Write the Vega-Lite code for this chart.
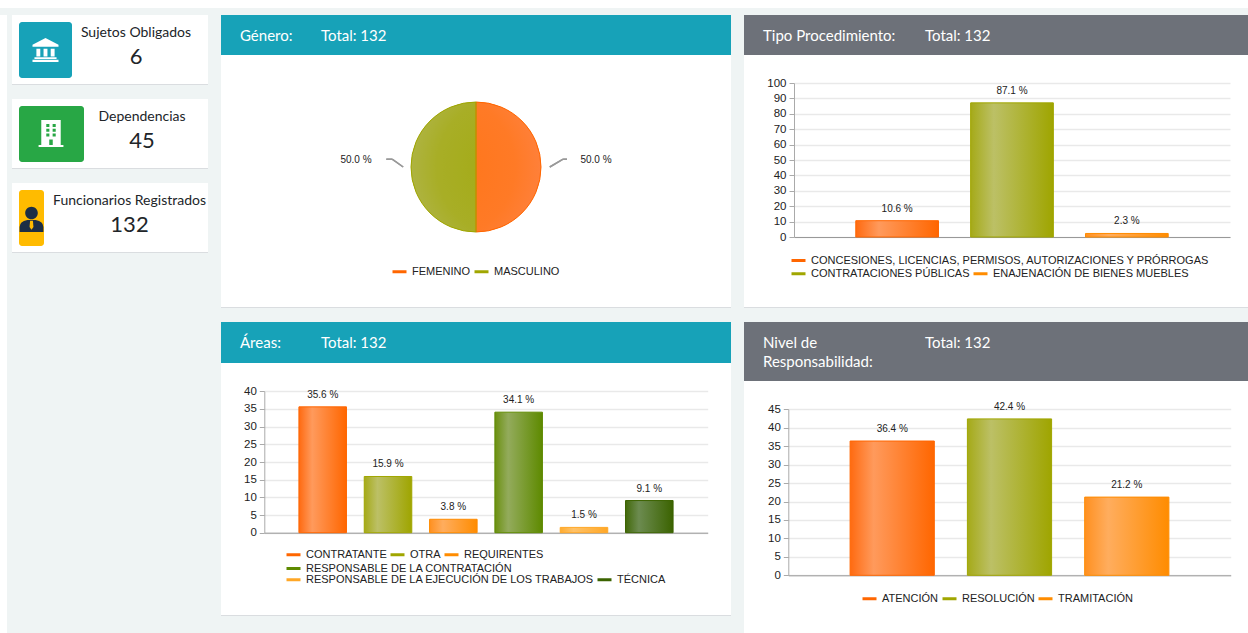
{"$schema":"https://vega.github.io/schema/vega-lite/v6.json","background":"#eff4f4","padding":0,"spacing":7,
"config":{"view":{"stroke":null},"text":{"font":"Liberation Sans"},"axis":{"labelFont":"Liberation Sans"},"legend":{"labelFont":"Liberation Sans"}},
"datasets":{
"vacio":[],
"tipo":[{"nombre":"CONCESIONES, LICENCIAS, PERMISOS, AUTORIZACIONES Y PRÓRROGAS","pct":10.6,"etiqueta":"10.6 %"},{"nombre":"CONTRATACIONES PÚBLICAS","pct":87.1,"etiqueta":"87.1 %"},{"nombre":"ENAJENACIÓN DE BIENES MUEBLES","pct":2.3,"etiqueta":"2.3 %"}],
"areas":[{"nombre":"CONTRATANTE","pct":35.6,"etiqueta":"35.6 %"},{"nombre":"OTRA","pct":15.9,"etiqueta":"15.9 %"},{"nombre":"REQUIRENTES","pct":3.8,"etiqueta":"3.8 %"},{"nombre":"RESPONSABLE DE LA CONTRATACIÓN","pct":34.1,"etiqueta":"34.1 %"},{"nombre":"RESPONSABLE DE LA EJECUCIÓN DE LOS TRABAJOS","pct":1.5,"etiqueta":"1.5 %"},{"nombre":"TÉCNICA","pct":9.1,"etiqueta":"9.1 %"}],
"nivel":[{"nombre":"ATENCIÓN","pct":36.4,"etiqueta":"36.4 %"},{"nombre":"RESOLUCIÓN","pct":42.4,"etiqueta":"42.4 %"},{"nombre":"TRAMITACIÓN","pct":21.2,"etiqueta":"21.2 %"}],
"genero":[{"nombre":"FEMENINO","pct":50,"etiqueta":"50.0 %"},{"nombre":"MASCULINO","pct":50,"etiqueta":"50.0 %"}]
},
"vconcat":[
{"width":1248,"height":8,"view":{"fill":"#ffffff"},"data":{"name":"vacio"},"mark":{"type":"rect"},"encoding":{}},
{"spacing":5,"hconcat":[
{"width":7,"height":618,"view":{"fill":"#ffffff"},"data":{"name":"vacio"},"mark":{"type":"rect"},"encoding":{}},
{"spacing":13,"hconcat":[
{"spacing":14,"vconcat":[
{"spacing":0,"vconcat":[
{"width":196,"height":69,"view":{"fill":"#ffffff"},"data":{"values":[{"tarjeta":"Sujetos Obligados","valor":"6"}]},
"layer":[
{"mark":{"type":"rect","color":"#17a2b8","cornerRadius":3},"encoding":{"x":{"datum":7,"scale":{"domain":[0,196],"range":[0,196]},"axis":null},"x2":{"datum":60},"y":{"datum":7,"scale":{"domain":[0,70],"range":[0,70]},"axis":null},"y2":{"datum":63}}},
{"mark":{"type":"point","filled":true,"color":"#ffffff","opacity":1,"size":676,"shape":"M-1,-0.4 L0,-0.92 L1,-0.4 L1,-0.25 L-1,-0.25 Z M-0.7,-0.1 H-0.4 V0.5 H-0.7 Z M-0.15,-0.1 H0.15 V0.5 H-0.15 Z M0.4,-0.1 H0.7 V0.5 H0.4 Z M-0.85,0.55 H0.85 V0.7 H-0.85 Z M-1,0.75 H1 V0.92 H-1 Z"},"encoding":{"x":{"datum":33.5,"scale":{"domain":[0,196],"range":[0,196]},"axis":null},"y":{"datum":35,"scale":{"domain":[0,70],"range":[0,70]},"axis":null}}},
{"mark":{"type":"text","font":"Lato","fontSize":14,"color":"#212529"},"encoding":{"text":{"field":"tarjeta"},"x":{"datum":124,"scale":{"domain":[0,196],"range":[0,196]},"axis":null},"y":{"datum":18,"scale":{"domain":[0,70],"range":[0,70]},"axis":null}}},
{"mark":{"type":"text","font":"Lato","fontSize":22,"color":"#212529"},"encoding":{"text":{"field":"valor"},"x":{"datum":124,"scale":{"domain":[0,196],"range":[0,196]},"axis":null},"y":{"datum":42,"scale":{"domain":[0,70],"range":[0,70]},"axis":null}}}
]},
{"width":196,"height":1,"view":{"fill":"#dadde0"},"data":{"name":"vacio"},"mark":{"type":"rect"},"encoding":{}}
]},
{"spacing":0,"vconcat":[
{"width":196,"height":69,"view":{"fill":"#ffffff"},"data":{"values":[{"tarjeta":"Dependencias","valor":"45"}]},
"layer":[
{"mark":{"type":"rect","color":"#28a745","cornerRadius":3},"encoding":{"x":{"datum":7,"scale":{"domain":[0,196],"range":[0,196]},"axis":null},"x2":{"datum":72},"y":{"datum":7,"scale":{"domain":[0,70],"range":[0,70]},"axis":null},"y2":{"datum":63}}},
{"mark":{"type":"point","filled":true,"color":"#ffffff","opacity":1,"size":729,"shape":"M-0.72,-1 H0.72 V0.85 H-0.72 Z M-0.35,-0.7 V-0.48 H-0.12 V-0.7 Z M0.12,-0.7 V-0.48 H0.35 V-0.7 Z M-0.35,-0.35 V-0.13 H-0.12 V-0.35 Z M0.12,-0.35 V-0.13 H0.35 V-0.35 Z M-0.35,0 V0.22 H-0.12 V0 Z M0.12,0 V0.22 H0.35 V0 Z M-0.13,0.45 V0.85 H0.13 V0.45 Z M-0.92,0.85 H0.92 V1 H-0.92 Z"},"encoding":{"x":{"datum":39,"scale":{"domain":[0,196],"range":[0,196]},"axis":null},"y":{"datum":34.5,"scale":{"domain":[0,70],"range":[0,70]},"axis":null}}},
{"mark":{"type":"text","font":"Lato","fontSize":14,"color":"#212529"},"encoding":{"text":{"field":"tarjeta"},"x":{"datum":130,"scale":{"domain":[0,196],"range":[0,196]},"axis":null},"y":{"datum":18,"scale":{"domain":[0,70],"range":[0,70]},"axis":null}}},
{"mark":{"type":"text","font":"Lato","fontSize":22,"color":"#212529"},"encoding":{"text":{"field":"valor"},"x":{"datum":130,"scale":{"domain":[0,196],"range":[0,196]},"axis":null},"y":{"datum":42,"scale":{"domain":[0,70],"range":[0,70]},"axis":null}}}
]},
{"width":196,"height":1,"view":{"fill":"#dadde0"},"data":{"name":"vacio"},"mark":{"type":"rect"},"encoding":{}}
]},
{"spacing":0,"vconcat":[
{"width":196,"height":69,"view":{"fill":"#ffffff"},"data":{"values":[{"tarjeta":"Funcionarios Registrados","valor":"132"}]},
"layer":[
{"mark":{"type":"rect","color":"#ffbb00","cornerRadius":3},"encoding":{"x":{"datum":7,"scale":{"domain":[0,196],"range":[0,196]},"axis":null},"x2":{"datum":32},"y":{"datum":7,"scale":{"domain":[0,70],"range":[0,70]},"axis":null},"y2":{"datum":63}}},
{"mark":{"type":"point","filled":true,"color":"#1c2e45","opacity":1,"size":784,"shape":"M0,-0.95 A0.45,0.45 0 1 1 0,-0.05 A0.45,0.45 0 1 1 0,-0.95 Z M-0.85,0.85 V0.5 Q-0.85,0.1 -0.3,0 L0.3,0 Q0.85,0.1 0.85,0.5 V0.85 Z"},"encoding":{"x":{"datum":19.5,"scale":{"domain":[0,196],"range":[0,196]},"axis":null},"y":{"datum":37,"scale":{"domain":[0,70],"range":[0,70]},"axis":null}}},
{"mark":{"type":"point","filled":true,"color":"#ffbb00","opacity":1,"size":784,"shape":"M-0.1,0.05 H0.1 L0.14,0.5 L0,0.7 L-0.14,0.5 Z"},"encoding":{"x":{"datum":19.5,"scale":{"domain":[0,196],"range":[0,196]},"axis":null},"y":{"datum":37,"scale":{"domain":[0,70],"range":[0,70]},"axis":null}}},
{"mark":{"type":"text","font":"Lato","fontSize":14,"color":"#212529"},"encoding":{"text":{"field":"tarjeta"},"x":{"datum":117.5,"scale":{"domain":[0,196],"range":[0,196]},"axis":null},"y":{"datum":18,"scale":{"domain":[0,70],"range":[0,70]},"axis":null}}},
{"mark":{"type":"text","font":"Lato","fontSize":22,"color":"#212529"},"encoding":{"text":{"field":"valor"},"x":{"datum":117.5,"scale":{"domain":[0,196],"range":[0,196]},"axis":null},"y":{"datum":42,"scale":{"domain":[0,70],"range":[0,70]},"axis":null}}}
]},
{"width":196,"height":1,"view":{"fill":"#dadde0"},"data":{"name":"vacio"},"mark":{"type":"rect"},"encoding":{}}
]}
]},
{"spacing":14,"vconcat":[
{"spacing":0,"vconcat":[
{"width":510,"height":40,"view":{"fill":"#17a2b8"},"data":{"values":[{"a":"Género:","b":"Total: 132"}]},
"layer":[
{"mark":{"type":"text","font":"Lato","fontSize":15,"color":"#ffffff","align":"left"},"encoding":{"text":{"field":"a"},"x":{"datum":19,"scale":{"domain":[0,510],"range":[0,510]},"axis":null},"y":{"datum":21,"scale":{"domain":[0,40],"range":[0,40]},"axis":null}}},
{"mark":{"type":"text","font":"Lato","fontSize":15,"color":"#ffffff","align":"left"},"encoding":{"text":{"field":"b"},"x":{"datum":100,"scale":{"domain":[0,510],"range":[0,510]},"axis":null},"y":{"datum":21,"scale":{"domain":[0,40],"range":[0,40]},"axis":null}}}
]},
{"width":510,"height":252,"view":{"fill":"#ffffff"},"data":{"name":"genero"},
"layer":[
{"mark":{"type":"arc","outerRadius":65,"fill":{"gradient":"radial","x1":0,"y1":0.5,"x2":0,"y2":0.5,"r1":0,"r2":1,"stops":[{"offset":0,"color":"#ff7518"},{"offset":0.55,"color":"#ff7a26"},{"offset":0.82,"color":"#ff8240"},{"offset":0.93,"color":"#ff7a2c"},{"offset":1,"color":"#ff6600"}]}},"encoding":{
"x":{"datum":0,"scale":{"domain":[-1,1],"range":[190,320]},"axis":null},"y":{"datum":0,"scale":{"domain":[-1,1],"range":[177,47]},"axis":null},
"theta":{"datum":0,"scale":{"domain":[0,100],"range":[0,6.2832]}},"theta2":{"datum":50}}},
{"mark":{"type":"arc","outerRadius":65,"fill":{"gradient":"radial","x1":1,"y1":0.5,"x2":1,"y2":0.5,"r1":0,"r2":1,"stops":[{"offset":0,"color":"#a2aa12"},{"offset":0.55,"color":"#a8ae26"},{"offset":0.82,"color":"#b0b54a"},{"offset":0.93,"color":"#aab030"},{"offset":1,"color":"#a0a600"}]}},"encoding":{
"x":{"datum":0,"scale":{"domain":[-1,1],"range":[190,320]},"axis":null},"y":{"datum":0,"scale":{"domain":[-1,1],"range":[177,47]},"axis":null},
"theta":{"datum":50,"scale":{"domain":[0,100],"range":[0,6.2832]}},"theta2":{"datum":100}}},
{"mark":{"type":"arc","outerRadius":65,"fill":"transparent","strokeWidth":1},"encoding":{
"x":{"datum":0,"scale":{"domain":[-1,1],"range":[190,320]},"axis":null},"y":{"datum":0,"scale":{"domain":[-1,1],"range":[177,47]},"axis":null},
"theta":{"field":"pct","type":"quantitative","stack":true,"scale":{"domain":[0,100],"range":[0,6.2832]}},
"order":{"field":"nombre"},
"stroke":{"field":"nombre","type":"nominal","scale":{"domain":["FEMENINO","MASCULINO"],"range":["#ff6600","#a0a600"]},"legend":{"orient":"none","legendX":170,"legendY":208,"direction":"horizontal","columns":2,"title":null,"symbolType":"stroke","symbolStrokeWidth":3,"symbolSize":196,"labelFontSize":11,"labelColor":"#222222","labelLimit":500,"columnPadding":-3,"labelOffset":4,"padding":0}}
}},
{"mark":{"type":"rule","color":"#999999","strokeWidth":1.5},"encoding":{"x":{"datum":1.135,"scale":{"domain":[-1,1],"range":[190,320]},"axis":null},"x2":{"datum":1.34},"y":{"datum":0,"scale":{"domain":[-1,1],"range":[177,47]},"axis":null},"y2":{"datum":0.12}}},
{"mark":{"type":"rule","color":"#999999","strokeWidth":1.5},"encoding":{"x":{"datum":1.34,"scale":{"domain":[-1,1],"range":[190,320]},"axis":null},"x2":{"datum":1.4},"y":{"datum":0.12,"scale":{"domain":[-1,1],"range":[177,47]},"axis":null},"y2":{"datum":0.12}}},
{"mark":{"type":"rule","color":"#999999","strokeWidth":1.5},"encoding":{"x":{"datum":-1.12,"scale":{"domain":[-1,1],"range":[190,320]},"axis":null},"x2":{"datum":-1.29},"y":{"datum":0,"scale":{"domain":[-1,1],"range":[177,47]},"axis":null},"y2":{"datum":0.12}}},
{"mark":{"type":"rule","color":"#999999","strokeWidth":1.5},"encoding":{"x":{"datum":-1.29,"scale":{"domain":[-1,1],"range":[190,320]},"axis":null},"x2":{"datum":-1.38},"y":{"datum":0.12,"scale":{"domain":[-1,1],"range":[177,47]},"axis":null},"y2":{"datum":0.12}}},
{"transform":[{"filter":{"field":"nombre","equal":"FEMENINO"}}],"mark":{"type":"text","fontSize":10,"color":"#222222"},"encoding":{"text":{"field":"etiqueta"},"x":{"datum":1.846,"scale":{"domain":[-1,1],"range":[190,320]},"axis":null},"y":{"datum":0.108,"scale":{"domain":[-1,1],"range":[177,47]},"axis":null}}},
{"transform":[{"filter":{"field":"nombre","equal":"MASCULINO"}}],"mark":{"type":"text","fontSize":10,"color":"#222222"},"encoding":{"text":{"field":"etiqueta"},"x":{"datum":-1.846,"scale":{"domain":[-1,1],"range":[190,320]},"axis":null},"y":{"datum":0.108,"scale":{"domain":[-1,1],"range":[177,47]},"axis":null}}}
],"resolve":{"scale":{"stroke":"independent"},"legend":{"stroke":"independent"}}},
{"width":510,"height":1,"view":{"fill":"#dadde0"},"data":{"name":"vacio"},"mark":{"type":"rect"},"encoding":{}}
]},
{"spacing":0,"vconcat":[
{"width":510,"height":41,"view":{"fill":"#17a2b8"},"data":{"values":[{"a":"Áreas:","b":"Total: 132"}]},
"layer":[
{"mark":{"type":"text","font":"Lato","fontSize":15,"color":"#ffffff","align":"left"},"encoding":{"text":{"field":"a"},"x":{"datum":19,"scale":{"domain":[0,510],"range":[0,510]},"axis":null},"y":{"datum":21,"scale":{"domain":[0,41],"range":[0,41]},"axis":null}}},
{"mark":{"type":"text","font":"Lato","fontSize":15,"color":"#ffffff","align":"left"},"encoding":{"text":{"field":"b"},"x":{"datum":100,"scale":{"domain":[0,510],"range":[0,510]},"axis":null},"y":{"datum":21,"scale":{"domain":[0,41],"range":[0,41]},"axis":null}}}
]},
{"width":510,"height":252,"view":{"fill":"#ffffff"},"data":{"name":"areas"},
"encoding":{
"x":{"field":"nombre","type":"nominal","sort":null,"title":null,"scale":{"domain":["CONTRATANTE","OTRA","REQUIRENTES","RESPONSABLE DE LA CONTRATACIÓN","RESPONSABLE DE LA EJECUCIÓN DE LOS TRABAJOS","TÉCNICA"],"range":[43.3,486.7],"paddingInner":0.272,"paddingOuter":0.53},"axis":{"labels":false,"ticks":false,"grid":false,"domainColor":"#999999","offset":-82.3}},
"y":{"field":"pct","type":"quantitative","stack":null,"title":null,"scale":{"domain":[0,40],"range":[169.7,28.3]},"axis":{"values":[0,5,10,15,20,25,30,35,40],"offset":-43.3,"domainColor":"#aaaaaa","tickColor":"#aaaaaa","tickSize":5,"gridColor":"#e9e9e9","gridWidth":1.5,"labelFontSize":11.5,"labelColor":"#222222","labelPadding":3}}
},
"layer":[
{"transform":[{"filter":{"field":"nombre","equal":"CONTRATANTE"}}],"mark":{"type":"bar","fill":{"gradient":"linear","x1":0,"x2":1,"y1":0,"y2":0,"stops":[{"offset":0,"color":"#ff6a10"},{"offset":0.28,"color":"#ff9a5c"},{"offset":1,"color":"#ff6600"}]}}},
{"transform":[{"filter":{"field":"nombre","equal":"OTRA"}}],"mark":{"type":"bar","fill":{"gradient":"linear","x1":0,"x2":1,"y1":0,"y2":0,"stops":[{"offset":0,"color":"#a5aa18"},{"offset":0.28,"color":"#bcc066"},{"offset":1,"color":"#9fa500"}]}}},
{"transform":[{"filter":{"field":"nombre","equal":"REQUIRENTES"}}],"mark":{"type":"bar","fill":{"gradient":"linear","x1":0,"x2":1,"y1":0,"y2":0,"stops":[{"offset":0,"color":"#ff9020"},{"offset":0.28,"color":"#ffad5e"},{"offset":1,"color":"#ff8c00"}]}}},
{"transform":[{"filter":{"field":"nombre","equal":"RESPONSABLE DE LA CONTRATACIÓN"}}],"mark":{"type":"bar","fill":{"gradient":"linear","x1":0,"x2":1,"y1":0,"y2":0,"stops":[{"offset":0,"color":"#6b9010"},{"offset":0.28,"color":"#93ab5c"},{"offset":1,"color":"#5e8a00"}]}}},
{"transform":[{"filter":{"field":"nombre","equal":"RESPONSABLE DE LA EJECUCIÓN DE LOS TRABAJOS"}}],"mark":{"type":"bar","fill":{"gradient":"linear","x1":0,"x2":1,"y1":0,"y2":0,"stops":[{"offset":0,"color":"#ffac30"},{"offset":0.28,"color":"#ffc268"},{"offset":1,"color":"#ffa726"}]}}},
{"transform":[{"filter":{"field":"nombre","equal":"TÉCNICA"}}],"mark":{"type":"bar","fill":{"gradient":"linear","x1":0,"x2":1,"y1":0,"y2":0,"stops":[{"offset":0,"color":"#42690a"},{"offset":0.28,"color":"#6c8b50"},{"offset":1,"color":"#3b6300"}]}}},
{"transform":[{"filter":{"field":"nombre","oneOf":["CONTRATANTE","OTRA","REQUIRENTES"]}}],"mark":{"type":"bar","fill":"transparent"},"encoding":{"stroke":{"field":"nombre","type":"nominal","scale":{"domain":["CONTRATANTE","OTRA","REQUIRENTES"],"range":["#ff6600","#a0a600","#ff8c00"]},"legend":{"orient":"none","legendX":64,"legendY":183,"direction":"horizontal","columns":3,"title":null,"symbolType":"stroke","symbolStrokeWidth":3,"symbolSize":196,"labelFontSize":11,"labelColor":"#222222","labelLimit":500,"columnPadding":-3,"labelOffset":4,"padding":0}}}},
{"transform":[{"filter":{"field":"nombre","oneOf":["RESPONSABLE DE LA CONTRATACIÓN"]}}],"mark":{"type":"bar","fill":"transparent"},"encoding":{"stroke":{"field":"nombre","type":"nominal","scale":{"domain":["RESPONSABLE DE LA CONTRATACIÓN"],"range":["#5e8a00"]},"legend":{"orient":"none","legendX":64,"legendY":197,"direction":"horizontal","columns":1,"title":null,"symbolType":"stroke","symbolStrokeWidth":3,"symbolSize":196,"labelFontSize":11,"labelColor":"#222222","labelLimit":500,"columnPadding":-3,"labelOffset":4,"padding":0}}}},
{"transform":[{"filter":{"field":"nombre","oneOf":["RESPONSABLE DE LA EJECUCIÓN DE LOS TRABAJOS","TÉCNICA"]}}],"mark":{"type":"bar","fill":"transparent"},"encoding":{"stroke":{"field":"nombre","type":"nominal","scale":{"domain":["RESPONSABLE DE LA EJECUCIÓN DE LOS TRABAJOS","TÉCNICA"],"range":["#ffa726","#3b6300"]},"legend":{"orient":"none","legendX":64,"legendY":208,"direction":"horizontal","columns":2,"title":null,"symbolType":"stroke","symbolStrokeWidth":3,"symbolSize":196,"labelFontSize":11,"labelColor":"#222222","labelLimit":500,"columnPadding":-3,"labelOffset":4,"padding":0}}}},
{"mark":{"type":"text","fontSize":10,"dy":-12,"color":"#222222"},"encoding":{"text":{"field":"etiqueta"}}}
],"resolve":{"scale":{"stroke":"independent"},"legend":{"stroke":"independent"}}},
{"width":510,"height":1,"view":{"fill":"#dadde0"},"data":{"name":"vacio"},"mark":{"type":"rect"},"encoding":{}}
]}
]},
{"spacing":14,"vconcat":[
{"spacing":0,"vconcat":[
{"width":504,"height":40,"view":{"fill":"#6d7179"},"data":{"values":[{"a":"Tipo Procedimiento:","b":"Total: 132"}]},
"layer":[
{"mark":{"type":"text","font":"Lato","fontSize":15,"color":"#ffffff","align":"left"},"encoding":{"text":{"field":"a"},"x":{"datum":19,"scale":{"domain":[0,504],"range":[0,504]},"axis":null},"y":{"datum":21,"scale":{"domain":[0,40],"range":[0,40]},"axis":null}}},
{"mark":{"type":"text","font":"Lato","fontSize":15,"color":"#ffffff","align":"left"},"encoding":{"text":{"field":"b"},"x":{"datum":181,"scale":{"domain":[0,504],"range":[0,504]},"axis":null},"y":{"datum":21,"scale":{"domain":[0,40],"range":[0,40]},"axis":null}}}
]},
{"width":504,"height":252,"view":{"fill":"#ffffff"},"data":{"name":"tipo"},
"encoding":{
"x":{"field":"nombre","type":"nominal","sort":null,"title":null,"scale":{"domain":["CONCESIONES, LICENCIAS, PERMISOS, AUTORIZACIONES Y PRÓRROGAS","CONTRATACIONES PÚBLICAS","ENAJENACIÓN DE BIENES MUEBLES"],"range":[50,486],"paddingInner":0.28,"paddingOuter":0.538},"axis":{"labels":false,"ticks":false,"grid":false,"domainColor":"#999999","offset":-70}},
"y":{"field":"pct","type":"quantitative","stack":null,"title":null,"scale":{"domain":[0,100],"range":[182,28]},"axis":{"values":[0,10,20,30,40,50,60,70,80,90,100],"offset":-50,"domainColor":"#aaaaaa","tickColor":"#aaaaaa","tickSize":5,"gridColor":"#e9e9e9","gridWidth":1.5,"labelFontSize":11.5,"labelColor":"#222222","labelPadding":3}}
},
"layer":[
{"transform":[{"filter":{"field":"nombre","equal":"CONCESIONES, LICENCIAS, PERMISOS, AUTORIZACIONES Y PRÓRROGAS"}}],"mark":{"type":"bar","fill":{"gradient":"linear","x1":0,"x2":1,"y1":0,"y2":0,"stops":[{"offset":0,"color":"#ff6a10"},{"offset":0.28,"color":"#ff9a5c"},{"offset":1,"color":"#ff6600"}]}}},
{"transform":[{"filter":{"field":"nombre","equal":"CONTRATACIONES PÚBLICAS"}}],"mark":{"type":"bar","fill":{"gradient":"linear","x1":0,"x2":1,"y1":0,"y2":0,"stops":[{"offset":0,"color":"#a5aa18"},{"offset":0.28,"color":"#bcc066"},{"offset":1,"color":"#9fa500"}]}}},
{"transform":[{"filter":{"field":"nombre","equal":"ENAJENACIÓN DE BIENES MUEBLES"}}],"mark":{"type":"bar","fill":{"gradient":"linear","x1":0,"x2":1,"y1":0,"y2":0,"stops":[{"offset":0,"color":"#ff9020"},{"offset":0.28,"color":"#ffad5e"},{"offset":1,"color":"#ff8c00"}]}}},
{"transform":[{"filter":{"field":"nombre","oneOf":["CONCESIONES, LICENCIAS, PERMISOS, AUTORIZACIONES Y PRÓRROGAS"]}}],"mark":{"type":"bar","fill":"transparent"},"encoding":{"stroke":{"field":"nombre","type":"nominal","scale":{"domain":["CONCESIONES, LICENCIAS, PERMISOS, AUTORIZACIONES Y PRÓRROGAS"],"range":["#ff6600"]},"legend":{"orient":"none","legendX":46,"legendY":197,"direction":"horizontal","columns":1,"title":null,"symbolType":"stroke","symbolStrokeWidth":3,"symbolSize":196,"labelFontSize":11,"labelColor":"#222222","labelLimit":500,"columnPadding":-3,"labelOffset":4,"padding":0}}}},
{"transform":[{"filter":{"field":"nombre","oneOf":["CONTRATACIONES PÚBLICAS","ENAJENACIÓN DE BIENES MUEBLES"]}}],"mark":{"type":"bar","fill":"transparent"},"encoding":{"stroke":{"field":"nombre","type":"nominal","scale":{"domain":["CONTRATACIONES PÚBLICAS","ENAJENACIÓN DE BIENES MUEBLES"],"range":["#a0a600","#ff8c00"]},"legend":{"orient":"none","legendX":46,"legendY":210,"direction":"horizontal","columns":2,"title":null,"symbolType":"stroke","symbolStrokeWidth":3,"symbolSize":196,"labelFontSize":11,"labelColor":"#222222","labelLimit":500,"columnPadding":-3,"labelOffset":4,"padding":0}}}},
{"mark":{"type":"text","fontSize":10,"dy":-12,"color":"#222222"},"encoding":{"text":{"field":"etiqueta"}}}
],"resolve":{"scale":{"stroke":"independent"},"legend":{"stroke":"independent"}}},
{"width":504,"height":1,"view":{"fill":"#dadde0"},"data":{"name":"vacio"},"mark":{"type":"rect"},"encoding":{}}
]},
{"spacing":0,"vconcat":[
{"width":504,"height":59,"view":{"fill":"#6d7179"},"data":{"values":[{"a":"Nivel de","c":"Responsabilidad:","b":"Total: 132"}]},
"layer":[
{"mark":{"type":"text","font":"Lato","fontSize":15,"color":"#ffffff","align":"left"},"encoding":{"text":{"field":"a"},"x":{"datum":19,"scale":{"domain":[0,504],"range":[0,504]},"axis":null},"y":{"datum":21,"scale":{"domain":[0,59],"range":[0,59]},"axis":null}}},
{"mark":{"type":"text","font":"Lato","fontSize":15,"color":"#ffffff","align":"left"},"encoding":{"text":{"field":"c"},"x":{"datum":19,"scale":{"domain":[0,504],"range":[0,504]},"axis":null},"y":{"datum":40,"scale":{"domain":[0,59],"range":[0,59]},"axis":null}}},
{"mark":{"type":"text","font":"Lato","fontSize":15,"color":"#ffffff","align":"left"},"encoding":{"text":{"field":"b"},"x":{"datum":181,"scale":{"domain":[0,504],"range":[0,504]},"axis":null},"y":{"datum":21,"scale":{"domain":[0,59],"range":[0,59]},"axis":null}}}
]},
{"width":504,"height":252,"view":{"fill":"#ffffff"},"data":{"name":"nivel"},
"encoding":{
"x":{"field":"nombre","type":"nominal","sort":null,"title":null,"scale":{"domain":["ATENCIÓN","RESOLUCIÓN","TRAMITACIÓN"],"range":[44.3,486.7],"paddingInner":0.282,"paddingOuter":0.527},"axis":{"labels":false,"ticks":false,"grid":false,"domainColor":"#999999","offset":-57.7}},
"y":{"field":"pct","type":"quantitative","stack":null,"title":null,"scale":{"domain":[0,45],"range":[194.3,28.3]},"axis":{"values":[0,5,10,15,20,25,30,35,40,45],"offset":-44.3,"domainColor":"#aaaaaa","tickColor":"#aaaaaa","tickSize":5,"gridColor":"#e9e9e9","gridWidth":1.5,"labelFontSize":11.5,"labelColor":"#222222","labelPadding":3}}
},
"layer":[
{"transform":[{"filter":{"field":"nombre","equal":"ATENCIÓN"}}],"mark":{"type":"bar","fill":{"gradient":"linear","x1":0,"x2":1,"y1":0,"y2":0,"stops":[{"offset":0,"color":"#ff6a10"},{"offset":0.28,"color":"#ff9a5c"},{"offset":1,"color":"#ff6600"}]}}},
{"transform":[{"filter":{"field":"nombre","equal":"RESOLUCIÓN"}}],"mark":{"type":"bar","fill":{"gradient":"linear","x1":0,"x2":1,"y1":0,"y2":0,"stops":[{"offset":0,"color":"#a5aa18"},{"offset":0.28,"color":"#bcc066"},{"offset":1,"color":"#9fa500"}]}}},
{"transform":[{"filter":{"field":"nombre","equal":"TRAMITACIÓN"}}],"mark":{"type":"bar","fill":{"gradient":"linear","x1":0,"x2":1,"y1":0,"y2":0,"stops":[{"offset":0,"color":"#ff9020"},{"offset":0.28,"color":"#ffad5e"},{"offset":1,"color":"#ff8c00"}]}}},
{"mark":{"type":"bar","fill":"transparent"},"encoding":{"stroke":{"field":"nombre","type":"nominal","scale":{"domain":["ATENCIÓN","RESOLUCIÓN","TRAMITACIÓN"],"range":["#ff6600","#a0a600","#ff8c00"]},"legend":{"orient":"none","legendX":117,"legendY":209,"direction":"horizontal","columns":3,"title":null,"symbolType":"stroke","symbolStrokeWidth":3,"symbolSize":196,"labelFontSize":11,"labelColor":"#222222","labelLimit":500,"columnPadding":-3,"labelOffset":4,"padding":0}}}},
{"mark":{"type":"text","fontSize":10,"dy":-12,"color":"#222222"},"encoding":{"text":{"field":"etiqueta"}}}
],"resolve":{"scale":{"stroke":"independent"},"legend":{"stroke":"independent"}}}
]}
]}
]}
]}
]}
